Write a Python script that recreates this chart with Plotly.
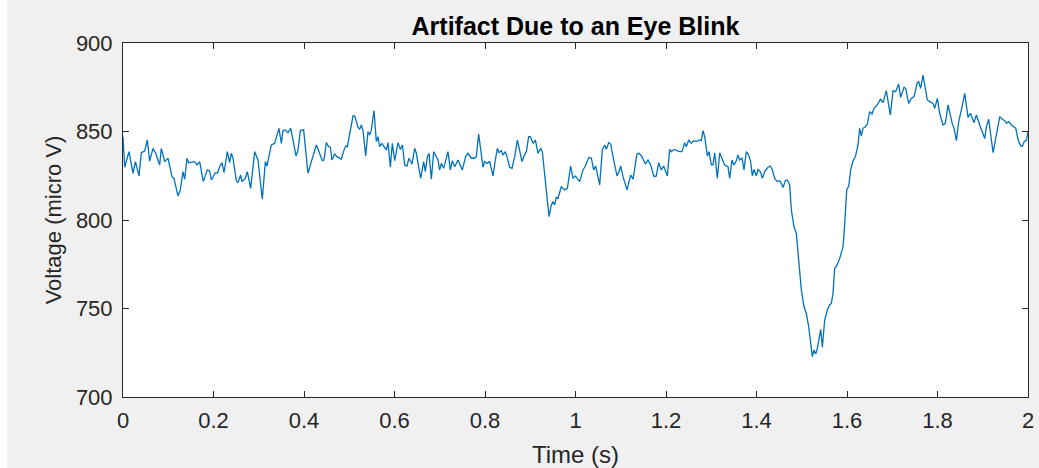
import plotly.graph_objects as go

# Single-channel EEG trace around an eye blink (time in seconds, voltage in micro V)
time_s = [
    0.0000, 0.0037, 0.0133, 0.0221, 0.0273, 0.0354, 0.0405, 0.0479, 0.0538, 0.0589,
    0.0663, 0.0722, 0.0810, 0.0847, 0.0921, 0.0994, 0.1083, 0.1127, 0.1215, 0.1267,
    0.1326, 0.1363, 0.1414, 0.1451, 0.1584, 0.1635, 0.1694, 0.1775, 0.1864, 0.1915,
    0.1952, 0.2041, 0.2085, 0.2136, 0.2188, 0.2232, 0.2306, 0.2357, 0.2394, 0.2431,
    0.2505, 0.2542, 0.2600, 0.2630, 0.2703, 0.2748, 0.2821, 0.2873, 0.2910, 0.2983,
    0.3079, 0.3146, 0.3182,
    0.3278, 0.3352, 0.3447, 0.3499, 0.3536, 0.3587, 0.3646, 0.3705, 0.3771, 0.3823,
    0.3867, 0.3919, 0.3992, 0.4088, 0.4162, 0.4221, 0.4272, 0.4332, 0.4405, 0.4442,
    0.4494, 0.4545, 0.4582, 0.4619, 0.4678, 0.4729, 0.4788, 0.4825, 0.4884, 0.4921,
    0.4958, 0.5024, 0.5083, 0.5120, 0.5193, 0.5230, 0.5267, 0.5304, 0.5363, 0.5414,
    0.5451, 0.5488, 0.5547, 0.5599, 0.5635, 0.5672, 0.5724, 0.5768, 0.5820, 0.5856,
    0.5908, 0.5952, 0.6004, 0.6041, 0.6077, 0.6129, 0.6173, 0.6225, 0.6276, 0.6320,
    0.6387, 0.6446, 0.6483, 0.6578,
    0.6645, 0.6682, 0.6726, 0.6763, 0.6814, 0.6866, 0.6924, 0.6961, 0.6998, 0.7035,
    0.7087, 0.7131, 0.7182, 0.7234, 0.7278, 0.7330, 0.7403, 0.7499, 0.7573, 0.7624,
    0.7698, 0.7772, 0.7808, 0.7860, 0.7919, 0.7956, 0.7993, 0.8044, 0.8103, 0.8177,
    0.8228, 0.8273, 0.8309, 0.8361, 0.8398, 0.8449, 0.8486, 0.8545, 0.8597, 0.8656,
    0.8715, 0.8766, 0.8818, 0.8862, 0.8914, 0.8965, 0.9002, 0.9061, 0.9113, 0.9172,
    0.9231, 0.9267, 0.9334, 0.9415, 0.9466, 0.9503, 0.9540, 0.9577, 0.9613, 0.9687,
    0.9761, 0.9820,
    0.9893, 0.9945, 0.9996, 1.0092, 1.0166, 1.0217, 1.0298, 1.0350, 1.0401, 1.0446,
    1.0534, 1.0593, 1.0645, 1.0682, 1.0733, 1.0777, 1.0844, 1.0917, 1.0961, 1.0998,
    1.1050, 1.1138, 1.1182, 1.1219, 1.1271, 1.1359, 1.1404, 1.1470, 1.1543, 1.1602,
    1.1661, 1.1735, 1.1786, 1.1838, 1.1897, 1.1948, 1.2029, 1.2081, 1.2118, 1.2177,
    1.2302, 1.2354, 1.2413, 1.2450, 1.2501, 1.2560, 1.2612, 1.2671, 1.2744, 1.2781,
    1.2818, 1.2855, 1.2914, 1.2951, 1.3002, 1.3039, 1.3076, 1.3135, 1.3186, 1.3260,
    1.3297, 1.3370, 1.3407, 1.3459, 1.3503, 1.3554, 1.3591, 1.3628, 1.3680, 1.3724,
    1.3775, 1.3827, 1.3871, 1.3908, 1.3945, 1.3996, 1.4033, 1.4085, 1.4129, 1.4180,
    1.4254, 1.4306, 1.4350, 1.4401, 1.4460, 1.4512, 1.4549, 1.4586, 1.4637, 1.4681,
    1.4733, 1.4770, 1.4829, 1.4880, 1.4917, 1.4954, 1.4991, 1.5050, 1.5101, 1.5153,
    1.5190, 1.5234, 1.5271, 1.5308, 1.5345, 1.5382, 1.5419, 1.5455, 1.5507, 1.5566,
    1.5618, 1.5654, 1.5691, 1.5728, 1.5780, 1.5839, 1.5891, 1.5913, 1.5950, 1.5994,
    1.6038, 1.6082, 1.6134, 1.6186, 1.6243, 1.6280, 1.6317, 1.6354, 1.6405, 1.6449,
    1.6501, 1.6553,
    1.6597, 1.6670, 1.6737, 1.6796, 1.6869, 1.6958, 1.7017, 1.7075, 1.7142, 1.7186,
    1.7260, 1.7296, 1.7363, 1.7422, 1.7481, 1.7554, 1.7584, 1.7628, 1.7680, 1.7775,
    1.7827, 1.7901, 1.7938, 1.7997, 1.8048, 1.8122, 1.8174, 1.8233, 1.8321, 1.8366,
    1.8417, 1.8469, 1.8528, 1.8601, 1.8675, 1.8727, 1.8808, 1.8859, 1.8933, 1.9007,
    1.9044, 1.9081, 1.9132, 1.9228, 1.9302, 1.9376, 1.9435, 1.9486, 1.9523, 1.9575,
    1.9634, 1.9686, 1.9730, 1.9782, 1.9841, 1.9878, 1.9915, 1.9966, 2.0000,
]

voltage_uv = [
    847.1, 829.8, 838.6, 826.4, 833.0, 824.9, 838.0, 839.0, 845.2, 833.3,
    840.5, 837.7, 831.1, 840.5, 833.0, 834.9, 824.5, 823.5, 813.6, 817.0,
    827.3, 823.0, 834.9, 832.4, 833.0, 831.1, 833.0, 821.7, 828.3, 827.7,
    822.6, 826.7, 826.4, 830.1, 832.4, 826.7, 838.6, 832.4, 837.7, 834.9,
    822.2, 821.1, 825.4, 821.7, 823.5, 827.3, 817.9, 830.1, 838.6, 833.9,
    811.7, 833.0, 830.5,
    842.4, 843.3, 851.8, 843.3, 850.5, 850.9, 849.3, 851.8, 843.3, 836.2,
    839.5, 850.5, 850.9, 826.4, 833.0, 837.7, 842.4, 838.6, 833.5, 833.9,
    843.7, 841.4, 841.1, 833.9, 837.3, 835.8, 834.9, 834.3, 839.5, 841.8,
    841.4, 849.9, 858.8, 858.8, 852.4, 851.2, 853.7, 850.5, 836.2, 849.9,
    848.0, 850.9, 861.8, 844.3, 847.1, 841.4, 843.3, 841.4, 839.5, 843.7,
    829.8, 843.3, 833.5, 838.6, 843.7, 839.9, 842.4, 831.1, 830.5, 834.9,
    831.6, 840.5, 837.7, 823.5,
    833.0, 827.3, 835.8, 837.7, 823.0, 838.6, 835.8, 833.9, 828.3, 832.0,
    829.2, 833.0, 838.6, 828.3, 833.5, 830.1, 833.9, 828.3, 835.8, 837.7,
    834.9, 834.9, 835.8, 848.6, 834.9, 829.8, 833.0, 832.0, 833.0, 824.9,
    833.9, 840.5, 838.0, 839.2, 836.7, 838.6, 835.8, 829.8, 829.2, 835.8,
    845.2, 838.6, 833.0, 836.2, 838.6, 847.1, 847.1, 843.3, 845.2, 837.7,
    840.5, 838.6, 820.7, 801.9, 808.5, 810.4, 808.5, 812.8, 812.2, 818.8,
    817.0, 817.9,
    830.5, 823.5, 824.9, 821.7, 828.3, 830.5, 835.4, 834.9, 828.3, 830.5,
    819.8, 839.5, 842.4, 839.9, 843.7, 842.9, 833.9, 824.9, 827.3, 830.5,
    824.5, 817.0, 821.7, 825.4, 823.0, 837.3, 837.7, 835.8, 831.6, 833.9,
    831.1, 824.5, 824.9, 832.4, 828.3, 830.5, 824.9, 839.9, 838.6, 839.9,
    838.6, 838.6, 843.7, 841.4, 845.2, 843.3, 844.8, 844.3, 845.2, 844.8,
    850.5, 847.1, 836.2, 838.6, 831.1, 831.1, 838.0, 823.5, 838.0, 833.9,
    831.1, 830.1, 823.5, 833.9, 831.1, 833.5, 836.7, 833.9, 834.9, 828.3,
    838.6, 836.7, 833.0, 824.9, 828.6, 824.9, 828.6, 827.3, 823.5, 827.3,
    829.8, 830.5, 828.3, 823.5, 821.7, 822.2, 820.7, 818.3, 822.2, 822.6,
    819.8, 805.7, 796.2, 792.5, 783.1, 773.6, 760.5, 751.0, 747.3, 739.7,
    732.2, 722.8, 726.6, 724.3, 727.5, 734.1, 738.2, 728.1, 743.5, 749.1,
    752.0, 752.9, 758.6, 772.7, 774.6, 778.3, 784.0, 784.9, 798.1, 817.0,
    819.2, 828.3, 833.5, 835.8, 842.4, 851.8, 847.5, 851.8, 852.7, 854.2,
    861.2, 859.9,
    863.1, 865.0, 868.2, 866.3, 873.1, 859.3, 873.1, 872.5, 876.8, 869.3,
    875.0, 874.4, 865.9, 868.7, 869.7, 877.6, 878.2, 874.4, 881.9, 867.8,
    866.9, 865.9, 863.1, 868.7, 860.3, 853.7, 854.6, 865.0, 855.0, 851.8,
    844.8, 855.6, 862.2, 871.6, 858.0, 860.3, 855.0, 859.3, 853.7, 848.0,
    846.1, 852.7, 856.9, 838.0, 849.0, 858.4, 856.9, 856.1, 854.6, 855.6,
    853.7, 852.7, 851.8, 845.2, 841.8, 841.8, 844.3, 845.2, 849.9,
]

x_ticks = [0, 0.2, 0.4, 0.6, 0.8, 1.0, 1.2, 1.4, 1.6, 1.8, 2.0]
x_tick_text = ["0", "0.2", "0.4", "0.6", "0.8", "1", "1.2", "1.4", "1.6", "1.8", "2"]
y_ticks = [700, 750, 800, 850, 900]

AXIS_COLOR = "#262626"
FONT = "Liberation Sans, Arial, Helvetica, sans-serif"

# plot-area geometry in pixels
W, H = 1039, 468
M_L, M_R, M_T, M_B = 123, 11, 43, 71
PW, PH = W - M_L - M_R, H - M_T - M_B

fig = go.Figure(
    go.Scatter(
        x=time_s,
        y=voltage_uv,
        mode="lines",
        line=dict(color="#0072BD", width=1.3),
        hoverinfo="skip",
    )
)

axis_common = dict(
    showline=True,
    linecolor=AXIS_COLOR,
    linewidth=1,
    mirror="ticks",
    ticks="inside",
    ticklen=6,
    tickwidth=1,
    tickcolor=AXIS_COLOR,
    showgrid=False,
    zeroline=False,
    automargin=False,
    tickfont=dict(family=FONT, size=22, color=AXIS_COLOR),
)

fig.update_xaxes(
    range=[0, 2],
    tickvals=x_ticks,
    ticktext=x_tick_text,
    title=dict(text="Time (s)", font=dict(family=FONT, size=24, color=AXIS_COLOR), standoff=13),
    ticklabelstandoff=4,
    **axis_common,
)
fig.update_yaxes(
    range=[700, 900],
    tickvals=y_ticks,
    title=dict(text="Voltage (micro V)", font=dict(family=FONT, size=22, color=AXIS_COLOR), standoff=8),
    ticklabelstandoff=5,
    **axis_common,
)

fig.update_layout(
    width=W,
    height=H,
    margin=dict(l=M_L, r=M_R, t=M_T, b=M_B),
    paper_bgcolor="#f0f0f0",
    plot_bgcolor="white",
    showlegend=False,
    title=dict(
        text="Artifact Due to an Eye Blink",
        font=dict(family=FONT, size=25, color="black", weight="bold"),
        x=0.5,
        xref="paper",
        xanchor="center",
        y=1 - 26 / H,
        yref="container",
        yanchor="middle",
    ),
    shapes=[
        # thin white frame along the left and top edges of the window
        dict(type="rect", xref="paper", yref="paper", layer="below",
             x0=-M_L / PW, x1=(7 - M_L) / PW, y0=-M_B / PH, y1=(H - M_T) / PH,
             fillcolor="white", line=dict(width=0)),
        dict(type="rect", xref="paper", yref="paper", layer="below",
             x0=-M_L / PW, x1=(960 - M_L) / PW, y0=(H - M_T - 5) / PH, y1=(H - M_T) / PH,
             fillcolor="white", line=dict(width=0)),
    ],
)

fig.write_html("out.html")
